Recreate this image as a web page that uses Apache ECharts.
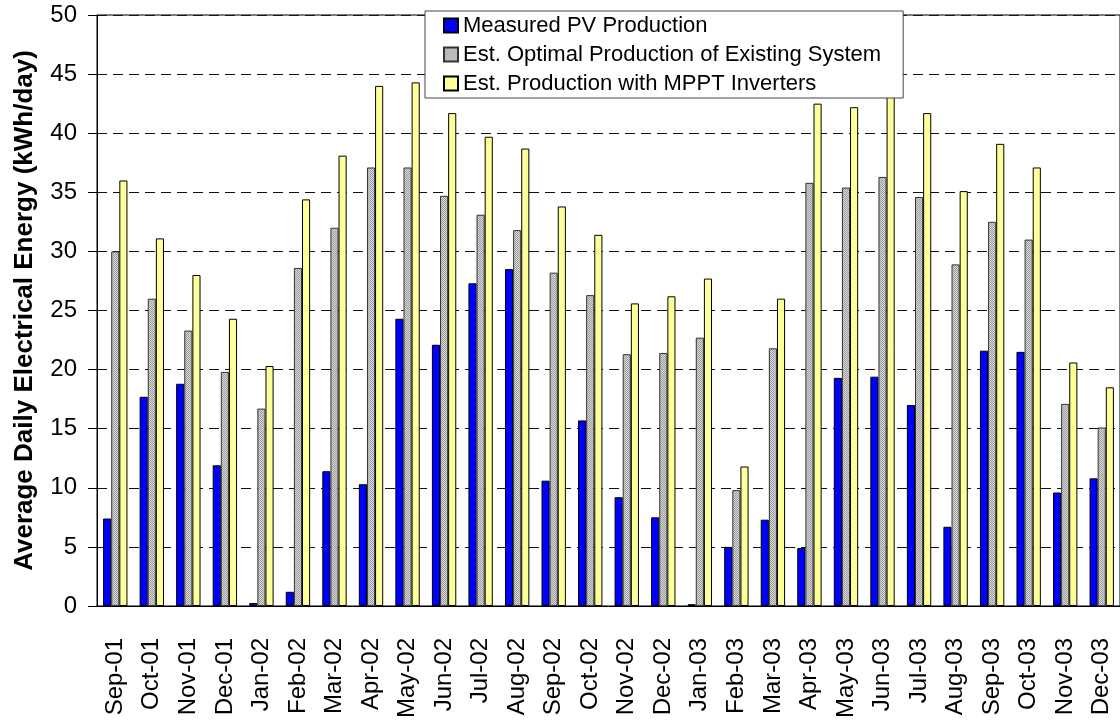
<!DOCTYPE html>
<html>
<head>
<meta charset="utf-8">
<script src="https://cdn.jsdelivr.net/npm/echarts@6/dist/echarts.min.js"></script>
<style>
  html, body { margin: 0; padding: 0; background: #fff; }
  #chart { width: 1120px; height: 721px; }
</style>
</head>
<body>
<div id="chart"></div>
<script>
const categories = ['Sep-01','Oct-01','Nov-01','Dec-01','Jan-02','Feb-02','Mar-02','Apr-02','May-02','Jun-02','Jul-02','Aug-02','Sep-02','Oct-02','Nov-02','Dec-02','Jan-03','Feb-03','Mar-03','Apr-03','May-03','Jun-03','Jul-03','Aug-03','Sep-03','Oct-03','Nov-03','Dec-03'];
const measured = [7.4, 17.7, 18.8, 11.9, 0.25, 1.2, 11.4, 10.3, 24.3, 22.1, 27.3, 28.5, 10.6, 15.7, 9.2, 7.5, 0.15, 5.0, 7.3, 4.9, 19.3, 19.4, 17.0, 6.7, 21.6, 21.5, 9.6, 10.8];
const optimal = [30.0, 26.0, 23.3, 19.8, 16.7, 28.6, 32.0, 37.1, 37.1, 34.7, 33.1, 31.8, 28.2, 26.3, 21.3, 21.4, 22.7, 9.8, 21.8, 35.8, 35.4, 36.3, 34.6, 28.9, 32.5, 31.0, 17.1, 15.1];
const mppt = [36.0, 31.1, 28.0, 24.3, 20.3, 34.4, 38.1, 44.0, 44.3, 41.7, 39.7, 38.7, 33.8, 31.4, 25.6, 26.2, 27.7, 11.8, 26.0, 42.5, 42.2, 43.6, 41.7, 35.1, 39.1, 37.1, 20.6, 18.5];
const seriesNames = ['Measured PV Production', 'Est. Optimal Production of Existing System', 'Est. Production with MPPT Inverters'];
const yTicks = { min: 0, max: 50, interval: 5 };

// dotted gray pattern
const pat = document.createElement('canvas');
pat.width = 2; pat.height = 2;
const pc = pat.getContext('2d');
pc.fillStyle = '#d8d8d8'; pc.fillRect(0, 0, 2, 2);
pc.fillStyle = '#9c9c9c'; pc.fillRect(0, 0, 1, 1); pc.fillRect(1, 1, 1, 1);

const FONT = '"Liberation Sans", Arial, sans-serif';
const chart = echarts.init(document.getElementById('chart'), null, { renderer: 'canvas' });

const barBase = { type: 'bar', barGap: '0%', barCategoryGap: '33.3%', animation: false };

chart.setOption({
  backgroundColor: '#ffffff',
  textStyle: { fontFamily: FONT, color: '#000' },
  grid: { left: 97, top: 15, width: 1031, height: 592, show: true, borderColor: '#000', borderWidth: 1, backgroundColor: 'transparent' },
  legend: {
    orient: 'vertical', left: 425, top: 11,
    padding: [0, 22, 0, 18], itemGap: 0,
    itemWidth: 14, itemHeight: 14, icon: 'rect',
    borderColor: '#444', borderWidth: 1, backgroundColor: '#fff',
    textStyle: { fontSize: 22, lineHeight: 29, color: '#000', fontFamily: FONT },
    data: seriesNames
  },
  xAxis: {
    type: 'category', data: categories,
    axisLine: { show: true, lineStyle: { color: '#000', width: 1 } },
    axisTick: { show: false },
    axisLabel: { rotate: 90, fontSize: 24, margin: 32, color: '#000', fontFamily: FONT, interval: 0 }
  },
  yAxis: {
    type: 'value', min: yTicks.min, max: yTicks.max, interval: yTicks.interval,
    name: 'Average Daily Electrical Energy (kWh/day)', nameLocation: 'middle', nameGap: 59,
    nameTextStyle: { fontSize: 26, fontWeight: 'bold', color: '#000', fontFamily: FONT },
    axisLine: { show: true, lineStyle: { color: '#000', width: 1 } },
    axisTick: { show: true, inside: false, length: 9, lineStyle: { color: '#000' } },
    axisLabel: { fontSize: 24, margin: 20, color: '#000', fontFamily: FONT },
    splitLine: { show: true, lineStyle: { color: '#111', width: 1, type: [10, 6] } }
  },
  series: [
    Object.assign({}, barBase, { name: seriesNames[0], data: measured, itemStyle: { color: '#0000ff', borderColor: '#000', borderWidth: 1 } }),
    Object.assign({}, barBase, { name: seriesNames[1], data: optimal, itemStyle: { color: { image: pat, repeat: 'repeat' }, borderColor: '#333', borderWidth: 1 } }),
    Object.assign({}, barBase, { name: seriesNames[2], data: mppt, itemStyle: { color: '#ffff99', borderColor: '#000', borderWidth: 1 } })
  ]
});
</script>
</body>
</html>
